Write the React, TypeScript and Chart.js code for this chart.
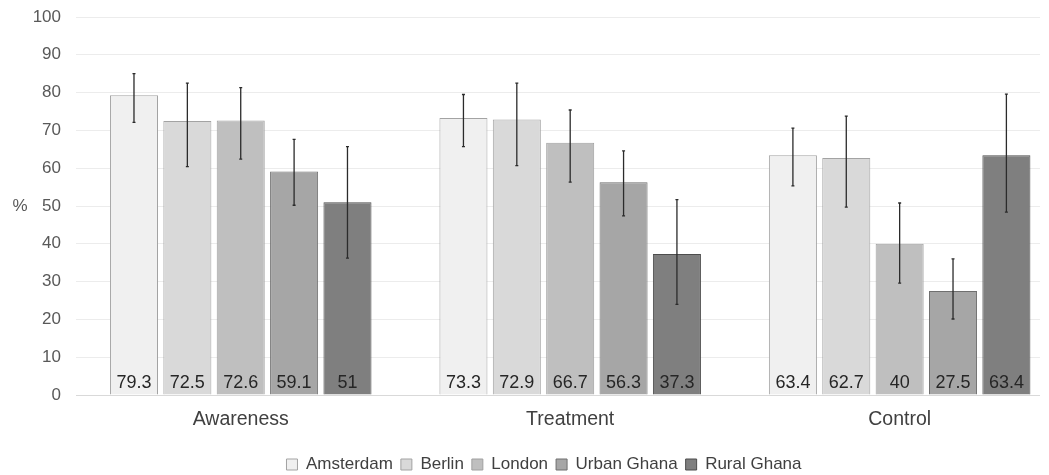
import React, { useEffect, useRef } from "react";
import { Chart, registerables } from "chart.js";

Chart.register(...registerables);

const categories = ["Awareness", "Treatment", "Control"];
const cities = ["Amsterdam", "Berlin", "London", "Urban Ghana", "Rural Ghana"];

const amsterdam = [79.3, 73.3, 63.4];
const berlin = [72.5, 72.9, 62.7];
const london = [72.6, 66.7, 40];
const urbanGhana = [59.1, 56.3, 27.5];
const ruralGhana = [51, 37.3, 63.4];

const amsterdamLow = [72.1, 65.7, 55.3];
const amsterdamHigh = [85.0, 79.5, 70.6];
const berlinLow = [60.4, 60.7, 49.7];
const berlinHigh = [82.5, 82.5, 73.8];
const londonLow = [62.4, 56.3, 29.6];
const londonHigh = [81.3, 75.4, 50.8];
const urbanGhanaLow = [50.2, 47.4, 20.1];
const urbanGhanaHigh = [67.6, 64.6, 36.0];
const ruralGhanaLow = [36.2, 24.0, 48.4];
const ruralGhanaHigh = [65.7, 51.7, 79.6];

const yMin = 0;
const yMax = 100;
const yStep = 10;
const yTitle = "%";

const seriesValues = [amsterdam, berlin, london, urbanGhana, ruralGhana];
const seriesLow = [amsterdamLow, berlinLow, londonLow, urbanGhanaLow, ruralGhanaLow];
const seriesHigh = [amsterdamHigh, berlinHigh, londonHigh, urbanGhanaHigh, ruralGhanaHigh];

const fills = ["#f0f0f0", "#d9d9d9", "#bfbfbf", "#a6a6a6", "#7f7f7f"];
const borders = ["#a3a3a3", "#a3a3a3", "#a0a0a0", "#6f6f6f", "#4d4d4d"];

const FONT = '"Liberation Sans", Arial, sans-serif';
const LEGEND_SHIFT = 24;

const errorBarsPlugin = {
  id: "errorBars",
  afterLayout(chart: any) {
    if (chart.legend) {
      chart.legend.left += LEGEND_SHIFT;
      chart.legend.right += LEGEND_SHIFT;
    }
  },
  afterDatasetsDraw(chart: any) {
    const ctx = chart.ctx;
    const y = chart.scales.y;
    ctx.save();
    ctx.strokeStyle = "#2b2b2b";
    ctx.lineWidth = 1.3;
    chart.data.datasets.forEach((ds: any, i: number) => {
      const meta = chart.getDatasetMeta(i);
      meta.data.forEach((el: any, j: number) => {
        const x = el.x;
        const yl = y.getPixelForValue(ds.low[j]);
        const yh = y.getPixelForValue(ds.high[j]);
        ctx.beginPath();
        ctx.moveTo(x, yl);
        ctx.lineTo(x, yh);
        ctx.moveTo(x - 1.5, yl);
        ctx.lineTo(x + 1.5, yl);
        ctx.moveTo(x - 1.5, yh);
        ctx.lineTo(x + 1.5, yh);
        ctx.stroke();
      });
    });
    ctx.fillStyle = "#262626";
    ctx.font = `18px ${FONT}`;
    ctx.textAlign = "center";
    ctx.textBaseline = "middle";
    const base = y.getPixelForValue(0);
    chart.data.datasets.forEach((ds: any, i: number) => {
      const meta = chart.getDatasetMeta(i);
      meta.data.forEach((el: any, j: number) => {
        ctx.fillText(String(ds.data[j].y), el.x, base - 12);
      });
    });
    ctx.fillStyle = "#595959";
    ctx.font = `17px ${FONT}`;
    const ca = chart.chartArea;
    ctx.fillText(yTitle, 20, (ca.top + ca.bottom) / 2);
    ctx.restore();
  },
};

export default function App() {
  const ref = useRef<HTMLCanvasElement | null>(null);

  useEffect(() => {
    if (!ref.current) return;
    const chart = new Chart(ref.current, {
      type: "bar",
      data: {
        datasets: cities.map((name, i) => ({
          label: name,
          data: seriesValues[i].map((v, k) => ({ x: k, y: v })),
          low: seriesLow[i],
          high: seriesHigh[i],
          backgroundColor: fills[i],
          borderColor: borders[i],
          borderWidth: 1,
          categoryPercentage: 0.81,
          barPercentage: 0.9,
        })) as any,
      },
      options: {
        animation: false,
        responsive: false,
        devicePixelRatio: 1,
        layout: { padding: { top: 17, right: 9, bottom: -8, left: 0 } },
        plugins: {
          tooltip: { enabled: false },
          legend: {
            position: "bottom",
            labels: {
              boxWidth: 11,
              boxHeight: 11,
              padding: 8,
              color: "#404040",
              font: { size: 17, family: FONT },
            },
          },
        },
        scales: {
          x: {
            type: "linear",
            min: -0.5,
            max: 2.426,
            offset: false,
            grid: { display: false },
            border: { display: false },
            afterBuildTicks: (s: any) => {
              s.ticks = categories.map((_, i) => ({ value: i }));
            },
            afterFit: (s: any) => {
              s.height = 53;
            },
            ticks: {
              autoSkip: false,
              maxRotation: 0,
              padding: 5,
              color: "#404040",
              font: { size: 19.5, family: FONT },
              callback: (v: any) => categories[v as number],
            },
          },
          y: {
            min: yMin,
            max: yMax,
            border: { display: false },
            grid: {
              drawTicks: false,
              color: (c: any) => (c.tick && c.tick.value === 0 ? "#d9d9d9" : "#ececec"),
            },
            afterFit: (s: any) => {
              s.width = 76;
              s.paddingTop = 0;
              s.paddingBottom = 0;
            },
            ticks: {
              stepSize: yStep,
              padding: 15,
              color: "#595959",
              font: { size: 17, family: FONT },
            },
          },
        },
      } as any,
      plugins: [errorBarsPlugin],
    });
    return () => chart.destroy();
  }, []);

  return (
    <div style={{ position: "absolute", left: 0, top: 0, width: 1049, height: 475, background: "#fff" }}>
      <canvas ref={ref} width={1049} height={475} style={{ display: "block" }} />
    </div>
  );
}
